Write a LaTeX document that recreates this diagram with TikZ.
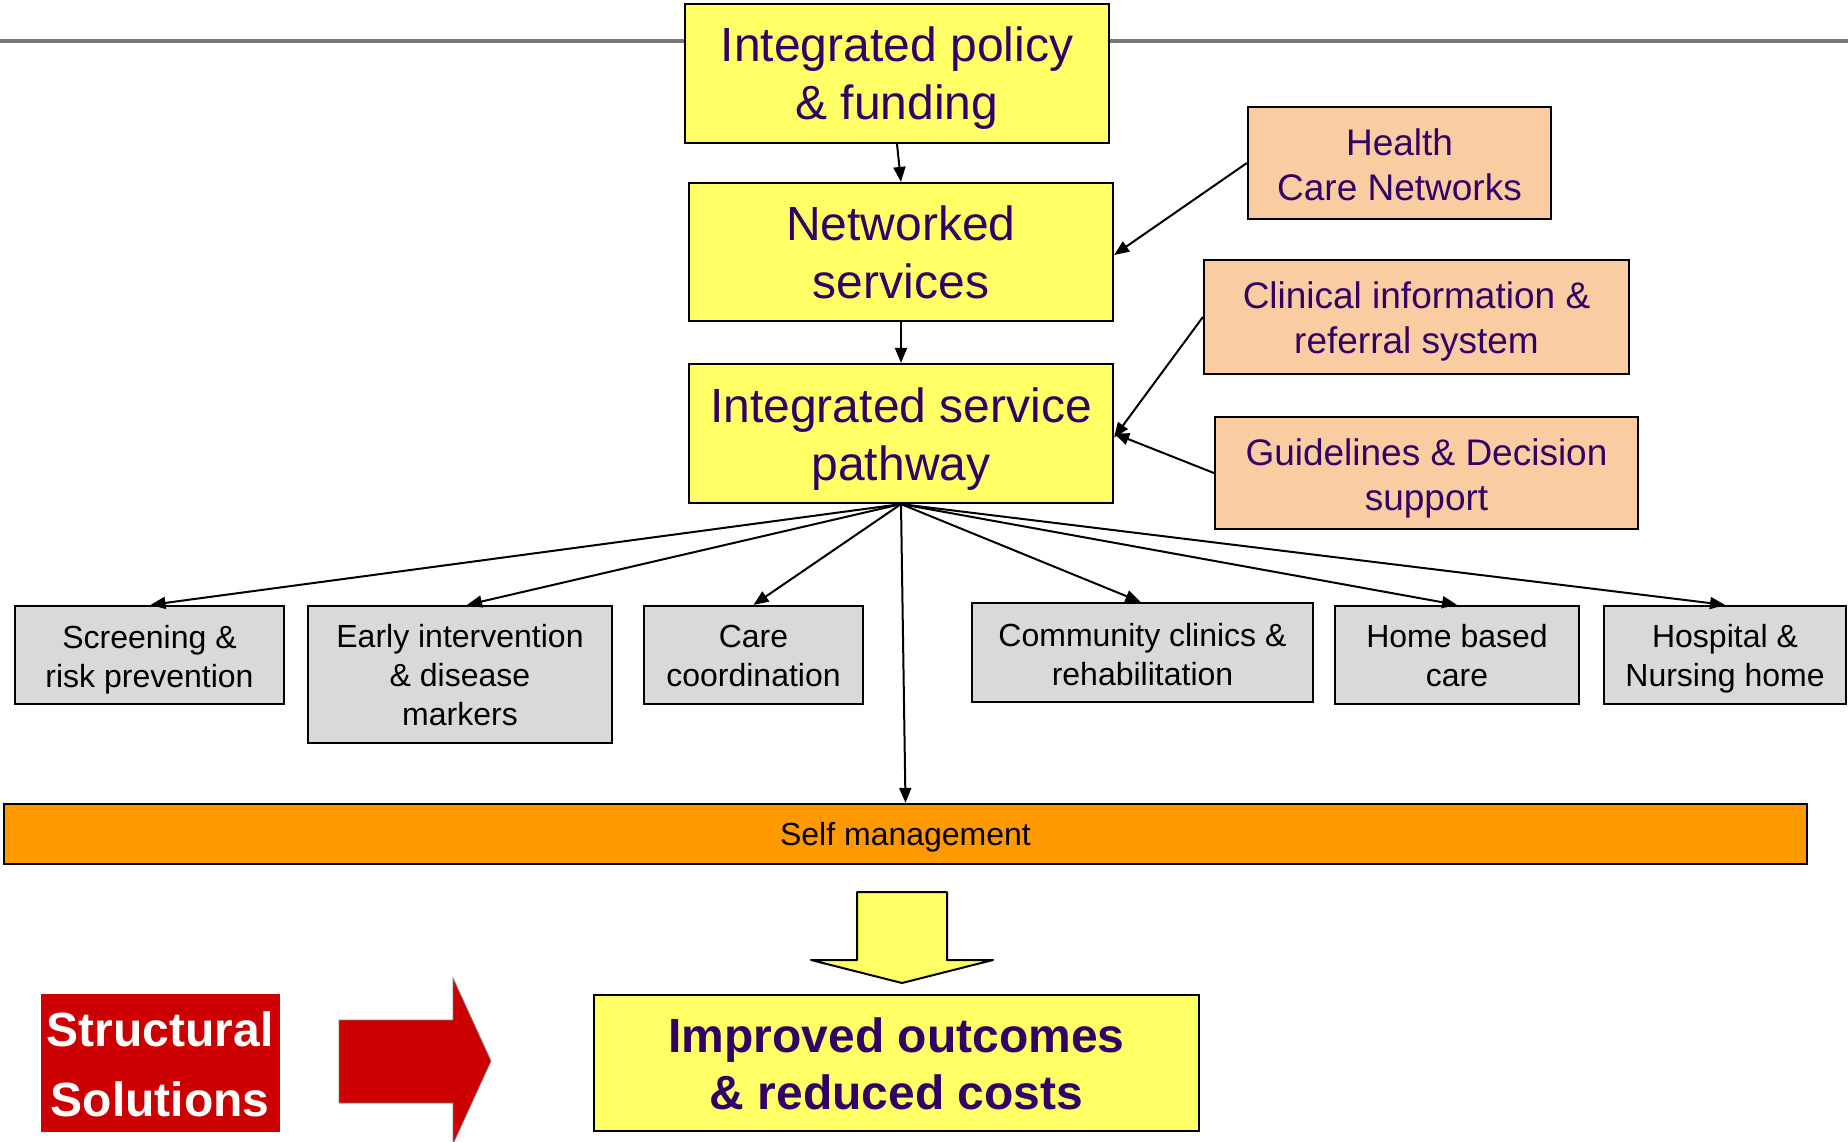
\documentclass[tikz,border=0pt]{standalone}
\usepackage{fontspec}
\setmainfont{Liberation Sans}
\usetikzlibrary{arrows.meta}
\definecolor{txtpurple}{HTML}{330066}
\definecolor{boxyellow}{HTML}{FFFF66}
\definecolor{boxpeach}{HTML}{F9CCA2}
\definecolor{boxgray}{HTML}{D9D9D9}
\definecolor{barorange}{HTML}{FF9900}
\definecolor{boxred}{HTML}{CC0000}
\begin{document}
\begin{tikzpicture}[x=1pt,y=-1pt,
  base/.style={draw=black,line width=2.2pt,rectangle,inner sep=0pt},
  mainbox/.style={base,fill=boxyellow},
  sidebox/.style={base,fill=boxpeach},
  leafbox/.style={base,fill=boxgray},
  txt/.style={inner sep=0pt,align=center},
  maintxt/.style={txt,text=txtpurple,font=\fontsize{48}{58}\selectfont},
  sidetxt/.style={txt,text=txtpurple,font=\fontsize{37}{45}\selectfont},
  leaftxt/.style={txt,text=black,font=\fontsize{32}{39}\selectfont},
  conn/.style={draw=black,line width=2pt,-{Triangle[length=15pt,width=12pt]}}
]
\useasboundingbox (0,0) rectangle (1848,1141);
\fill[white] (0,0) rectangle (1848,1141);

% top gray rule
\draw[draw=gray!95!black,line width=4pt] (0,40.5) -- (1848,40.5);

% boxes
\node[mainbox,minimum width=424pt,minimum height=139pt] (policy) at (897,73.5) {};
\node[maintxt] (policy-t) at ([yshift=-4.7pt]policy.center) {Integrated policy\\\& funding};
\node[mainbox,minimum width=424pt,minimum height=138pt] (networked) at (901,252) {};
\node[maintxt] (networked-t) at (networked.center) {Networked\\services};
\node[mainbox,minimum width=424pt,minimum height=139pt] (pathway) at (901,433.5) {};
\node[maintxt] (pathway-t) at ([yshift=-5.5pt]pathway.center) {Integrated service\\pathway};

\node[sidebox,minimum width=303pt,minimum height=112pt] (hcn) at (1399.5,163) {};
\node[sidetxt] (hcn-t) at ([yshift=-2pt]hcn.center) {Health\\Care Networks};
\node[sidebox,minimum width=425pt,minimum height=114pt] (clin) at (1416.5,317) {};
\node[sidetxt] (clin-t) at ([yshift=-4.5pt]clin.center) {Clinical information \&\\referral system};
\node[sidebox,minimum width=423pt,minimum height=112pt] (guide) at (1426.5,473) {};
\node[sidetxt] (guide-t) at ([yshift=-5.3pt]guide.center) {Guidelines \& Decision\\support};

\node[leafbox,minimum width=269pt,minimum height=98pt] (screen) at (149.5,655) {};
\node[leaftxt] (screen-t) at ([yshift=-4.5pt]screen.center) {Screening \&\\risk prevention};
\node[leafbox,minimum width=304pt,minimum height=137pt] (early) at (460,674.5) {};
\node[leaftxt] (early-t) at ([yshift=-0.5pt]early.center) {Early intervention\\\& disease\\markers};
\node[leafbox,minimum width=219pt,minimum height=98pt] (care) at (753.5,655) {};
\node[leaftxt] (care-t) at ([yshift=-0.5pt]care.center) {Care\\coordination};
\node[leafbox,minimum width=341pt,minimum height=99pt] (comm) at (1142.5,652.5) {};
\node[leaftxt] (comm-t) at ([yshift=-2pt]comm.center) {Community clinics \&\\rehabilitation};
\node[leafbox,minimum width=244pt,minimum height=98pt] (home) at (1457,655) {};
\node[leaftxt] (home-t) at ([yshift=-0.5pt]home.center) {Home based\\care};
\node[leafbox,minimum width=242pt,minimum height=98pt] (hosp) at (1725,655) {};
\node[leaftxt] (hosp-t) at ([yshift=-4pt]hosp.center) {Hospital \&\\Nursing home};

\node[base,fill=barorange,minimum width=1803pt,minimum height=60pt] (self) at (905.5,834) {};
\node[leaftxt] (self-t) at ([yshift=-3.5pt]self.center) {Self management};

\node[base,draw=boxred,line width=0.5pt,fill=boxred,minimum width=238pt,minimum height=137pt] (struct) at (160,1062.5) {};
\node[txt,text=white,font=\bfseries\fontsize{48}{70}\selectfont] (struct-t) at ([yshift=-2pt]struct.center) {Structural\\Solutions};
\node[mainbox,minimum width=605pt,minimum height=136pt] (improved) at (896.5,1063) {};
\node[txt,text=txtpurple,font=\bfseries\fontsize{48}{57}\selectfont] (improved-t) at ([yshift=-1pt]improved.center) {Improved outcomes\\\& reduced costs};

% connectors
\draw[conn] (policy.south) -- (networked.north);
\draw[conn] (networked.south) -- (pathway.north);
\draw[conn] (hcn.west) -- ([yshift=-3pt]networked.east);
\draw[conn] (clin.west) -- ([yshift=-4pt]pathway.east);
\draw[conn] (guide.west) -- (pathway.east);

\draw[conn] (pathway.south) -- ([xshift=1pt]screen.north);
\draw[conn] (pathway.south) -- ([xshift=7pt]early.north);
\draw[conn] (pathway.south) -- (care.north);
\draw[conn] (pathway.south) -- ([xshift=-2pt]comm.north);
\draw[conn] (pathway.south) -- (home.north);
\draw[conn] (pathway.south) -- (hosp.north);
\draw[conn] (pathway.south) -- (self.north);

% block arrows
\draw[fill=boxyellow,draw=black,line width=2pt,line join=round]
  (857,892) -- (947,892) -- (947,960) -- (993,960) -- (902,983) -- (811,960) -- (857,960) -- cycle;
\draw[fill=boxred,draw=gray,line width=0.8pt]
  (339,1020) -- (453,1020) -- (453,978) -- (491,1061) -- (453,1144) -- (453,1103) -- (339,1103) -- cycle;
\end{tikzpicture}
\end{document}
